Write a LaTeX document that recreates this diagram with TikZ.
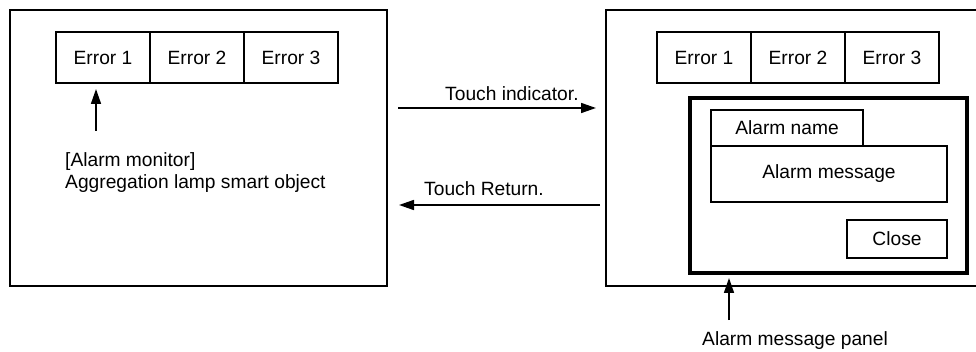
\documentclass[tikz,border=0pt]{standalone}
\usepackage{fontspec}
\setmainfont{Liberation Sans}
\usetikzlibrary{arrows.meta}
\begin{document}
\begin{tikzpicture}[x=1pt,y=-1pt,
  every node/.style={font=\fontsize{19.2}{22}\selectfont},
  box/.style={draw, line width=1.4pt, inner sep=0pt, minimum height=51pt, minimum width=94pt},
  screenbox/.style={draw, line width=2pt, inner sep=0pt},
  panelbox/.style={draw, line width=3.2pt, inner sep=0pt},
  ibox/.style={draw, line width=1.4pt, inner sep=0pt},
  lbl/.style={inner sep=0pt, anchor=base west},
  arr/.style={line width=1.6pt, -{Triangle[length=15pt,width=10pt]}}]
\useasboundingbox (0,0) rectangle (976,352);
% left screen
\node[screenbox, minimum width=377pt, minimum height=276pt] (ls) at (198.5,148) {};
\node[box] (le1) at (103,57.5) {Error 1};
\node[box] (le2) at (197,57.5) {Error 2};
\node[box] (le3) at (291,57.5) {Error 3};
\coordinate (la0) at (96,131);
\coordinate (la1) at (96,89);
\draw[arr] (la0) -- (la1);
\node[lbl] (mon) at (65,167) {[Alarm monitor]};
\node[lbl] (agg) at (65,189) {Aggregation lamp smart object};
% right screen (cut at picture edge)
\coordinate (rs0) at (977,10);
\coordinate (rs1) at (606,286);
\coordinate (rs2) at (977,286);
\draw[line width=2pt] (rs0) -| (rs1) -- (rs2);
\node[box] (re1) at (704,57.5) {Error 1};
\node[box] (re2) at (798,57.5) {Error 2};
\node[box] (re3) at (892,57.5) {Error 3};
\node[panelbox, minimum width=277pt, minimum height=175pt] (panel) at (828.5,185.5) {};
\node[ibox, minimum width=152pt, minimum height=36pt] (tab) at (787,128) {Alarm name};
\node[ibox, minimum width=236pt, minimum height=56pt] (msg) at (829,174) {Alarm message};
\node[ibox, minimum width=100pt, minimum height=38pt] (close) at (897,239) {Close};
\coordinate (pa0) at (729,320);
\coordinate (pa1) at (729,278);
\draw[arr] (pa0) -- (pa1);
\node[lbl] (pl) at (702,345) {Alarm message panel};
% transitions
\coordinate (t0) at (398,108);
\coordinate (t1) at (596,108);
\draw[arr] (t0) -- (t1);
\node[lbl] (ti) at (445,101) {Touch indicator.};
\coordinate (r0) at (600,205);
\coordinate (r1) at (399,205);
\draw[arr] (r0) -- (r1);
\node[lbl] (tr) at (424,196) {Touch Return.};
\end{tikzpicture}
\end{document}
